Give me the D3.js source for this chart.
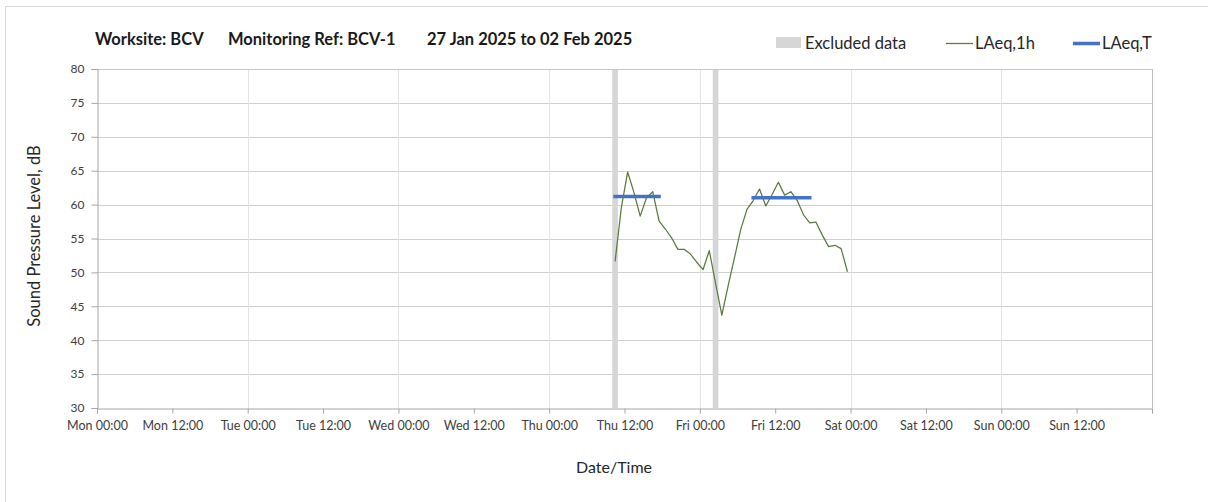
<!DOCTYPE html>
<html>
<head>
<meta charset="utf-8">
<script src="https://cdn.jsdelivr.net/npm/d3@7"></script>
<style>
  html, body { margin: 0; padding: 0; background: #fff; }
  svg { display: block; font-family: Lato, "Open Sans", sans-serif; }
</style>
</head>
<body>
<svg id="chart" width="1208" height="502"></svg>
<script>
// ---------- data ----------
const titleParts = ["Worksite: BCV", "Monitoring Ref: BCV-1", "27 Jan 2025 to 02 Feb 2025"];
const weekStart = "2025-01-27 00:00";
const weekEnd = "2025-02-03 00:00";
const yTicks = [30, 35, 40, 45, 50, 55, 60, 65, 70, 75, 80];

// hourly LAeq,1h values, first value at Thu 10:30, one per hour
const laeq1hFirst = "2025-01-30 10:30";
const laeq1hValues = [51.6, 59.6, 64.8, 61.8, 58.3, 61.0, 61.9, 57.6, 56.4, 55.1,
                      53.4, 53.4, 52.7, 51.5, 50.4, 53.2, 48.4, 43.7, 48.0, 52.1,
                      56.3, 59.3, 60.6, 62.3, 59.8, 61.5, 63.3, 61.4, 61.9, 60.6,
                      58.5, 57.3, 57.4, 55.5, 53.8, 54.0, 53.5, 50.1];

// LAeq,T periods
const laeqTStart = ["2025-01-30 10:30", "2025-01-31 08:30"];
const laeqTEnd   = ["2025-01-30 17:30", "2025-01-31 17:30"];
const laeqTValues = [61.2, 61.0];

// excluded hours (start of each excluded hour)
const excludedStart = ["2025-01-30 10:00", "2025-01-31 02:00"];

const legendLabels = ["Excluded data", "LAeq,1h", "LAeq,T"];

// ---------- setup ----------
const parse = d3.timeParse("%Y-%m-%d %H:%M");
const svg = d3.select("#chart");
const m = { left: 97, right: 1152, top: 69, bottom: 408 };
const HOUR = 3600 * 1000;

const x = d3.scaleTime().domain([parse(weekStart), parse(weekEnd)]).range([m.left, m.right]);
const y = d3.scaleLinear().domain([30, 80]).range([m.bottom, m.top]);

// outer border
svg.append("rect").attr("x", 5.5).attr("y", 6.5).attr("width", 1220).attr("height", 520)
  .attr("fill", "none").attr("stroke", "#d9d9d9").attr("stroke-width", 1);

// horizontal gridlines
svg.append("g").selectAll("line").data(yTicks.filter(v => v > 30)).join("line")
  .attr("x1", m.left).attr("x2", m.right)
  .attr("y1", d => Math.round(y(d)) + 0.5).attr("y2", d => Math.round(y(d)) + 0.5)
  .attr("stroke", "#d0d0d0").attr("stroke-width", 1);

// vertical gridlines at each midnight
const xTicks = d3.timeHour.every(12).range(parse(weekStart), new Date(+parse(weekEnd) + 1));
const midnights = xTicks.filter(d => d.getHours() === 0 && +d > +parse(weekStart));
svg.append("g").selectAll("line").data(midnights).join("line")
  .attr("x1", d => Math.round(x(d)) + 0.5).attr("x2", d => Math.round(x(d)) + 0.5)
  .attr("y1", m.top).attr("y2", m.bottom)
  .attr("stroke", d => +d === +parse(weekEnd) ? "#bfbfbf" : "#e3e3e3").attr("stroke-width", 1);

// top border of plot
svg.append("line").attr("x1", m.left).attr("x2", m.right).attr("y1", m.top + 0.5).attr("y2", m.top + 0.5)
  .attr("stroke", "#c8c8c8");

// excluded bars
svg.append("g").selectAll("rect").data(excludedStart).join("rect")
  .attr("x", d => x(new Date(+parse(d) + 0.05 * HOUR)))
  .attr("width", d => x(new Date(+parse(d) + 0.95 * HOUR)) - x(new Date(+parse(d) + 0.05 * HOUR)))
  .attr("y", m.top + 1).attr("height", m.bottom - m.top - 1)
  .attr("fill", "#d6d6d6");

// axes
const yAxis = d3.axisLeft(y).tickValues(yTicks).tickSize(6).tickFormat(d3.format("d"));
const gy = svg.append("g").attr("transform", `translate(${m.left + 0.5},0)`).call(yAxis);
gy.select(".domain").attr("stroke", "#a6a6a6");
gy.selectAll(".tick line").attr("stroke", "#a6a6a6");
gy.selectAll(".tick text").attr("fill", "#404040").attr("font-size", 12).attr("x", -13)
  .attr("font-family", "Lato, sans-serif");

const fmt = d3.timeFormat("%a %H:%M");
const xAxis = d3.axisBottom(x).tickValues(xTicks).tickSize(5)
  .tickFormat(d => +d === +parse(weekEnd) ? "" : fmt(d));
const gx = svg.append("g").attr("transform", `translate(0,${m.bottom + 0.5})`).call(xAxis);
gx.select(".domain").attr("stroke", "#a6a6a6");
gx.selectAll(".tick line").attr("stroke", "#a6a6a6");
gx.selectAll(".tick text").attr("fill", "#404040").attr("font-size", 12.5).attr("dy", "1.05em")
  .attr("font-family", "Lato, sans-serif");

// LAeq,1h line
const pts = laeq1hValues.map((v, i) => ({ t: new Date(+parse(laeq1hFirst) + i * HOUR), v }));
svg.append("path").datum(pts)
  .attr("d", d3.line().x(d => x(d.t)).y(d => y(d.v)))
  .attr("fill", "none").attr("stroke", "#5b7a3c").attr("stroke-width", 1.25)
  .attr("stroke-linejoin", "round");

// LAeq,T segments
svg.append("g").selectAll("line").data(laeqTValues).join("line")
  .attr("x1", (d, i) => x(parse(laeqTStart[i]))).attr("x2", (d, i) => x(parse(laeqTEnd[i])))
  .attr("y1", d => y(d)).attr("y2", d => y(d))
  .attr("stroke", "#4472c4").attr("stroke-width", 3.5).attr("stroke-linecap", "square");

// title
const titleX = [95, 228, 427];
svg.append("g").selectAll("text").data(titleParts).join("text")
  .attr("x", (d, i) => titleX[i]).attr("y", 45)
  .attr("font-size", 16.5).attr("font-weight", "bold").attr("fill", "#1a1a1a")
  .text(d => d);

// legend
const lg = svg.append("g").attr("font-size", 16.5).attr("fill", "#262626");
lg.append("rect").attr("x", 776).attr("y", 37).attr("width", 25).attr("height", 11).attr("fill", "#d6d6d6");
lg.append("text").attr("x", 805).attr("y", 49).text(legendLabels[0]);
lg.append("line").attr("x1", 946).attr("x2", 973).attr("y1", 43.5).attr("y2", 43.5)
  .attr("stroke", "#5b7a3c").attr("stroke-width", 1.25);
lg.append("text").attr("x", 975).attr("y", 49).text(legendLabels[1]);
lg.append("line").attr("x1", 1073).attr("x2", 1100).attr("y1", 43.5).attr("y2", 43.5)
  .attr("stroke", "#4472c4").attr("stroke-width", 3.5);
lg.append("text").attr("x", 1102).attr("y", 49).text(legendLabels[2]);

// axis titles
svg.append("text").attr("transform", "translate(40,236) rotate(-90)")
  .attr("text-anchor", "middle").attr("font-size", 16.5).attr("fill", "#262626")
  .text("Sound Pressure Level, dB");
svg.append("text").attr("x", 614).attr("y", 473)
  .attr("text-anchor", "middle").attr("font-size", 16).attr("fill", "#262626")
  .text("Date/Time");
</script>
</body>
</html>
